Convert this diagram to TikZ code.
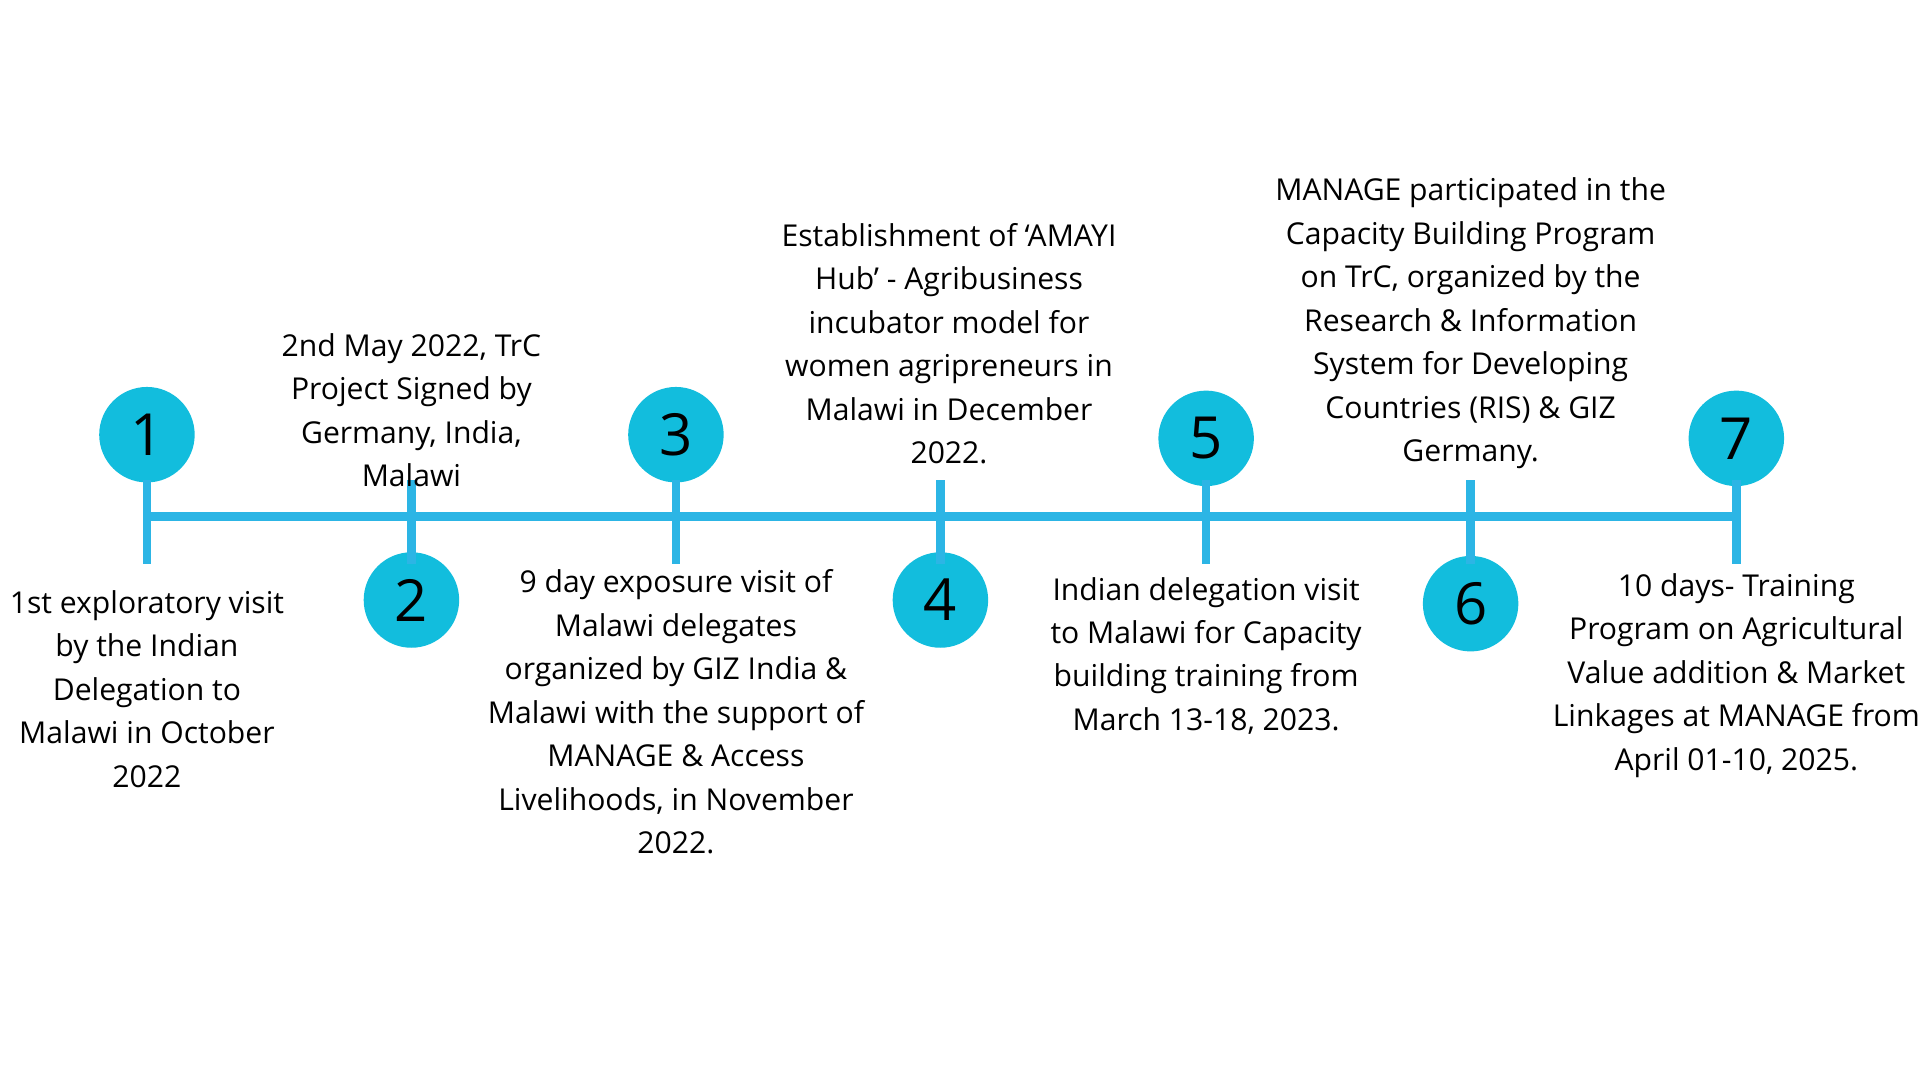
\documentclass[tikz,border=0pt]{standalone}
\usepackage{fontspec}
\setmainfont{Open Sans}
\usetikzlibrary{positioning}
\definecolor{dotcyan}{HTML}{12BDDD}
\definecolor{linecyan}{HTML}{2CB5E5}
\tikzset{
  dot/.style={circle,fill=dotcyan,minimum size=1.56cm,inner sep=0pt,font=\fontsize{27}{27}\selectfont},
  tick/.style={draw=linecyan,line width=4pt},
  event/.style={align=center,inner sep=0pt,font=\fontsize{14}{20.2}\selectfont}
}
\begin{document}
\begin{tikzpicture}[x=0.02cm,y=-0.02cm]
\useasboundingbox (0,0) rectangle (1568,882);

%Nodes
\node[dot] (d1) at (120,355) {1};
\node[dot] (d2) at (336,490) {2};
\node[dot] (d3) at (552,355) {3};
\node[dot] (d4) at (768,490) {4};
\node[dot] (d5) at (985,358) {5};
\node[dot] (d6) at (1201,493) {6};
\node[dot] (d7) at (1418,358) {7};

\coordinate (start) at (120,422);
\coordinate (stop) at (1418,422);
\foreach \x/\n in {120/1,336/2,552/3,768/4,985/5,1201/6,1418/7}{
  \coordinate (t\n a) at (\x,392);
  \coordinate (t\n b) at (\x,461);
}

%Lines
\draw[tick] (start) -- (stop);
\foreach \n in {1,...,7}{\draw[tick] (t\n a) -- (t\n b);}

%Texts
\node[event,anchor=north] (e1) at (120,482) {1st exploratory visit\\by the Indian\\Delegation to\\Malawi in October\\2022};
\node[event,anchor=north] (e2) at (336,272) {2nd May 2022, TrC\\Project Signed by\\Germany, India,\\Malawi};
\node[event,anchor=north] (e3) at (552,465) {9 day exposure visit of\\Malawi delegates\\organized by GIZ India \&\\Malawi with the support of\\MANAGE \& Access\\Livelihoods, in November\\2022.};
\node[event,anchor=north] (e4) at (775,182) {Establishment of ‘AMAYI\\Hub’ - Agribusiness\\incubator model for\\women agripreneurs in\\Malawi in December\\2022.};
\node[event,anchor=north] (e5) at (985,471) {Indian delegation visit\\to Malawi for Capacity\\building training from\\March 13-18, 2023.};
\node[event,anchor=north] (e6) at (1201,145) {MANAGE participated in the\\Capacity Building Program\\on TrC, organized by the\\Research \& Information\\System for Developing\\Countries (RIS) \& GIZ\\Germany.};
\node[event,anchor=north] (e7) at (1418,468) {10 days- Training\\Program on Agricultural\\Value addition \& Market\\Linkages at MANAGE from\\April 01-10, 2025.};
\end{tikzpicture}
\end{document}
